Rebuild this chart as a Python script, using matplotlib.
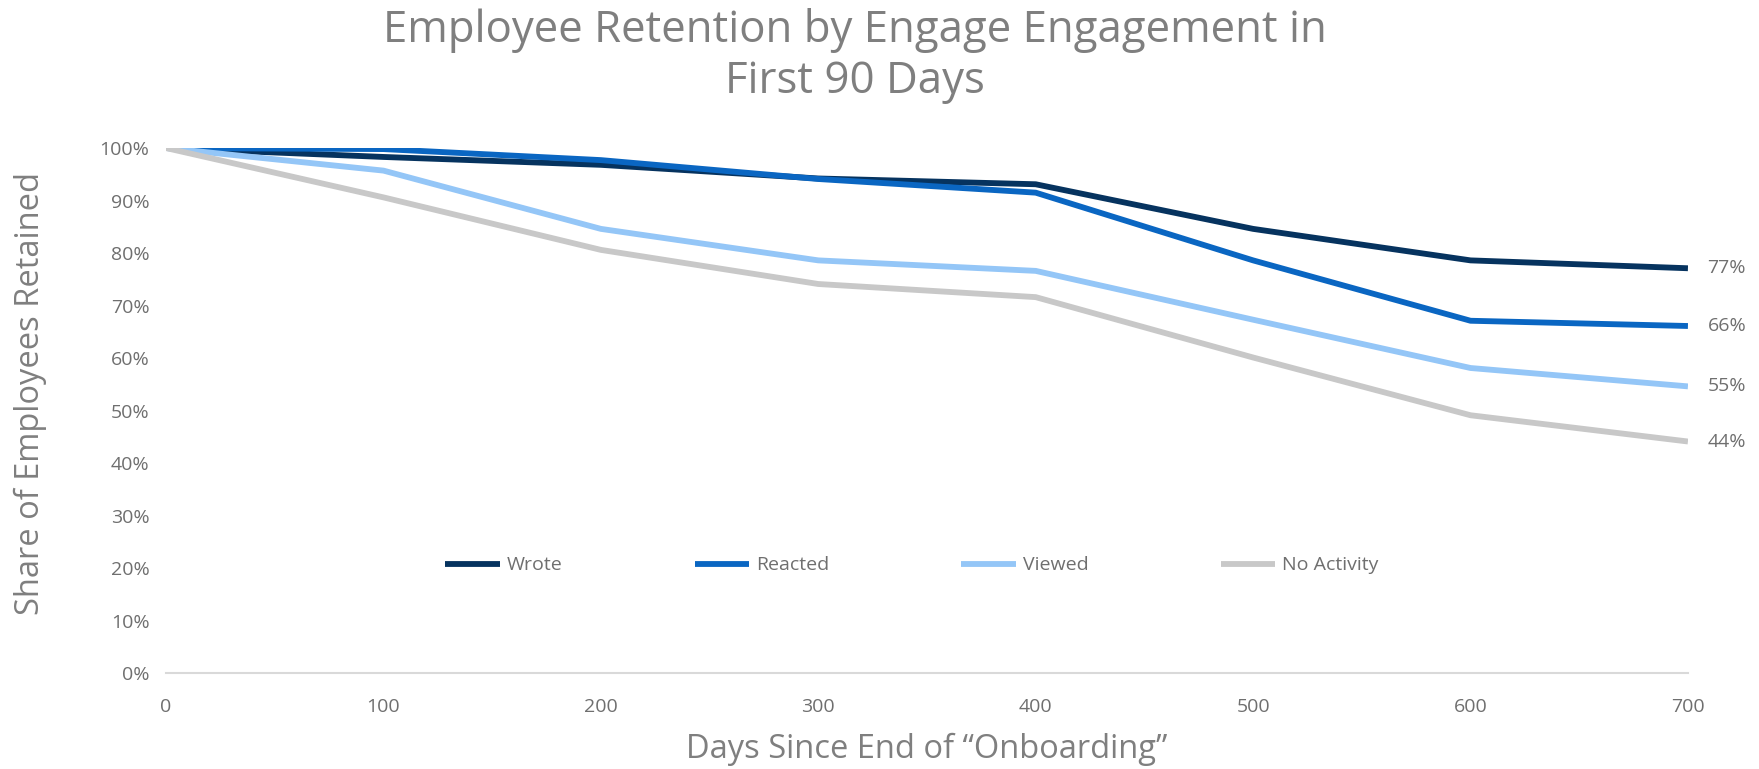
import matplotlib.pyplot as plt
from matplotlib.ticker import PercentFormatter

plt.rcParams['font.family'] = ['Open Sans', 'DejaVu Sans']

days = [0, 100, 200, 300, 400, 500, 600, 700]
wrote = [100, 98.3, 96.8, 94.2, 93.1, 84.6, 78.6, 77.1]
reacted = [100, 99.8, 97.7, 94.1, 91.5, 78.6, 67.1, 66.1]
viewed = [100, 95.7, 84.6, 78.6, 76.6, 67.3, 58.1, 54.6]
no_activity = [100, 90.6, 80.6, 74.1, 71.6, 60.1, 49.1, 44.1]

series = [('Wrote', wrote, '#06335f'),
          ('Reacted', reacted, '#0a66c2'),
          ('Viewed', viewed, '#94c6f7'),
          ('No Activity', no_activity, '#c8c8c8')]

grey = '#7f7f7f'
label_grey = '#6f6f6f'

fig = plt.figure(figsize=(17.59, 7.69), dpi=100)
ax = fig.add_axes([0.0944, 0.1248, 0.8652, 0.6827])

for name, vals, col in series:
    ax.plot(days, vals, color=col, lw=4.2, label=name,
            solid_capstyle='butt', solid_joinstyle='round')
    ax.annotate(f'{vals[-1]:.0f}%', (days[-1], vals[-1]), xytext=(14, 0),
                textcoords='offset points', va='center', ha='left',
                fontsize=14, color=label_grey)

ax.set_xlim(0, 700)
ax.set_ylim(0, 100)
ax.set_xticks(range(0, 701, 100))
ax.set_yticks(range(0, 101, 10))
ax.yaxis.set_major_formatter(PercentFormatter(decimals=0))
ax.tick_params(length=0, labelsize=14, labelcolor=label_grey)
ax.tick_params(axis='x', pad=18)
ax.tick_params(axis='y', pad=12)

for s in ['top', 'right', 'left']:
    ax.spines[s].set_visible(False)
ax.spines['bottom'].set_color('#d9d9d9')
ax.spines['bottom'].set_linewidth(1.5)

ax.set_xlabel('Days Since End of \u201cOnboarding\u201d', fontsize=23.5, color=grey, labelpad=12)
ax.set_ylabel('Share of Employees Retained', fontsize=23.5, color=grey)
ax.yaxis.set_label_coords(-0.078, 0.532)

fig.text(0.486, 0.99, 'Employee Retention by Engage Engagement in\nFirst 90 Days',
         ha='center', va='top', fontsize=31.5, color=grey, linespacing=1.2)

leg = ax.legend(loc='center', bbox_to_anchor=(0.49, 0.205), ncol=4, frameon=False,
                fontsize=14, handlelength=2.8, handletextpad=0.35, columnspacing=6.8)
for t in leg.get_texts():
    t.set_color(label_grey)

fig.savefig('out.png', dpi=100)
